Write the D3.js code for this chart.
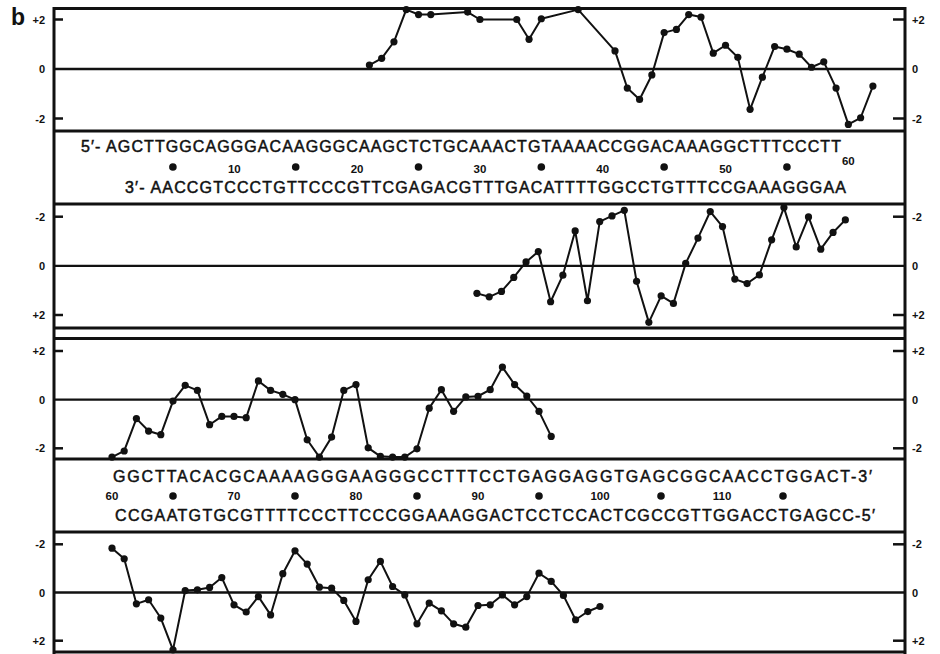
<!DOCTYPE html>
<html>
<head>
<meta charset="utf-8">
<script src="https://cdn.jsdelivr.net/npm/d3@7"></script>
<style>
  body { margin: 0; background: #fff; }
  svg { display: block; }
  text { font-family: "Liberation Sans", Arial, Helvetica, sans-serif; fill: #111; }
</style>
</head>
<body>
<div id="chart"></div>
<script>
// DNA sequence shown in the two boxes
const seqTopA = "5\u2032- AGCTTGGCAGGGACAAGGGCAAGCTCTGCAAACTGTAAAACCGGACAAAGGCTTTCCCTT";
const seqBotA = "3\u2032- AACCGTCCCTGTTCCCGTTCGAGACGTTTGACATTTTGGCCTGTTTCCGAAAGGGAA";
const seqTopB = "GGCTTACACGCAAAAGGGAAGGGCCTTTCCTGAGGAGGTGAGCGGCAACCTGGACT-3\u2032";
const seqBotB = "CCGAATGTGCGTTTTCCCTTCCCGGAAAGGACTCCTCCACTCGCCGTTGGACCTGAGCC-5\u2032";

// numbering under the sequences
const numsA = [10, 20, 30, 40, 50, 60];
const dotsA = [5, 15, 25, 35, 45, 55];
const numsB = [60, 70, 80, 90, 100, 110];
const dotsB = [65, 75, 85, 95, 105, 115];

// y tick values
const yTicks = [-2, 0, 2];

// panel 1 : upper strand, first half (there are gaps in the profile)
const pos1 = [21, 22, 23, 24, 25, 26, 29, 30, 33, 34, 35, 38,
  41, 42, 43, 44, 45, 46, 47, 48, 49, 50, 51, 52, 53, 54, 55, 56, 57, 58, 59, 60, 61, 62];
const val1 = [0.16, 0.43, 1.1, 2.4, 2.2, 2.2, 2.3, 2.0, 2.0, 1.2, 2.03, 2.4,
  0.73, -0.77, -1.23, -0.24, 1.47, 1.6, 2.2, 2.1, 0.64, 0.96, 0.47, -1.63, -0.33, 0.91,
  0.8, 0.6, 0.07, 0.29, -0.77, -2.24, -1.97, -0.69];

// panel 2 : lower strand, first half (axis reversed)
const pos2 = d3.range(30, 61);
const val2 = [1.12, 1.26, 1.04, 0.47, -0.16, -0.58, 1.46, 0.38, -1.42, 1.42, -1.8, -2.03,
  -2.26, 0.63, 2.3, 1.22, 1.53, -0.1, -1.13, -2.21, -1.6, 0.54, 0.72, 0.37, -1.06, -2.37,
  -0.77, -1.99, -0.68, -1.36, -1.87];

// panel 3 : upper strand, second half
const pos3 = d3.range(60, 97);
const val3 = [-2.36, -2.11, -0.78, -1.29, -1.44, -0.06, 0.59, 0.38, -1.03, -0.69, -0.69,
  -0.74, 0.77, 0.38, 0.22, 0.0, -1.65, -2.36, -1.54, 0.38, 0.62, -1.98, -2.33, -2.36, -2.36,
  -2.02, -0.35, 0.41, -0.48, 0.11, 0.14, 0.41, 1.34, 0.62, 0.15, -0.48, -1.51];

// panel 4 : lower strand, second half (axis reversed)
const pos4 = d3.range(60, 101);
const val4 = [-1.84, -1.4, 0.47, 0.3, 1.06, 2.38, -0.08, -0.11, -0.21, -0.62, 0.51, 0.81,
  0.17, 0.93, -0.78, -1.73, -1.18, -0.22, -0.18, 0.33, 1.2, -0.53, -1.29, -0.25, 0.1, 1.3,
  0.44, 0.76, 1.3, 1.44, 0.54, 0.51, 0.1, 0.51, 0.17, -0.8, -0.46, 0.12, 1.13, 0.79, 0.58];

const W = 940, H = 654;
const left = 54, right = 905;

const svg = d3.select("#chart").append("svg")
  .attr("width", W).attr("height", H);

// x scales, one per half of the sequence
const xA = d3.scaleLinear().domain([0, 62]).range([111.5, 872.9]);
const xB = d3.scaleLinear().domain([60, 100]).range([112, 600]);

// the four profile panels
const panels = [
  { pos: pos1, val: val1, x: xA, shift: 0,  y: d3.scaleLinear().domain([-2, 2]).range([118.5, 19.5]) },
  { pos: pos2, val: val2, x: xA, shift: -3, y: d3.scaleLinear().domain([-2, 2]).range([216.7, 315]) },
  { pos: pos3, val: val3, x: xB, shift: 0,  y: d3.scaleLinear().domain([-2, 2]).range([448.3, 351]) },
  { pos: pos4, val: val4, x: xB, shift: 0,  y: d3.scaleLinear().domain([-2, 2]).range([544.3, 640.7]) }
];

const fmt = d => d > 0 ? "+" + d : d < 0 ? "-" + Math.abs(d) : "0";

panels.forEach(p => {
  const g = svg.append("g");

  // zero line
  g.append("line")
    .attr("x1", left).attr("x2", right)
    .attr("y1", p.y(0)).attr("y2", p.y(0))
    .attr("stroke", "#111").attr("stroke-width", 2.3);

  // ticks at +-2 on both sides
  g.selectAll(".tl").data([-2, 2]).join("line")
    .attr("x1", left).attr("x2", left + 9)
    .attr("y1", d => p.y(d)).attr("y2", d => p.y(d))
    .attr("stroke", "#111").attr("stroke-width", 2.5);
  g.selectAll(".tr").data([-2, 2]).join("line")
    .attr("x1", right - 12).attr("x2", right)
    .attr("y1", d => p.y(d)).attr("y2", d => p.y(d))
    .attr("stroke", "#111").attr("stroke-width", 2.5);

  // tick labels
  g.selectAll(".ll").data(yTicks).join("text")
    .attr("x", 45).attr("y", d => p.y(d) + 4)
    .attr("text-anchor", "end")
    .attr("font-size", 11).attr("font-weight", "bold")
    .text(fmt);
  g.selectAll(".rl").data(yTicks).join("text")
    .attr("x", 912).attr("y", d => p.y(d) + 4)
    .attr("font-size", 11).attr("font-weight", "bold")
    .text(fmt);

  const pts = p.pos.map((d, i) => [p.x(d) + p.shift, p.y(p.val[i])]);

  g.append("path")
    .attr("d", d3.line()(pts))
    .attr("fill", "none").attr("stroke", "#111")
    .attr("stroke-width", 2).attr("stroke-linejoin", "round");

  g.selectAll("circle").data(pts).join("circle")
    .attr("cx", d => d[0]).attr("cy", d => d[1])
    .attr("r", 3.6).attr("fill", "#111");
});

// frame: horizontal rules and the two side borders
const rules = [8.5, 131, 204, 328, 338.5, 459, 532, 652];
svg.selectAll(".rule").data(rules).join("line")
  .attr("x1", left).attr("x2", right)
  .attr("y1", d => d).attr("y2", d => d)
  .attr("stroke", "#111").attr("stroke-width", 3);
svg.selectAll(".side").data([left, right]).join("line")
  .attr("x1", d => d).attr("x2", d => d)
  .attr("y1", 7).attr("y2", H)
  .attr("stroke", "#111").attr("stroke-width", 3);

// sequence boxes
const boxes = [
  { top: seqTopA, bot: seqBotA, x: xA, nums: numsA, dots: dotsA,
    topX: 81, topLen: 760, botX: 125, botLen: 721, yTop: 152, yNum: 173, yDot: 167, yBot: 193 },
  { top: seqTopB, bot: seqBotB, x: xB, nums: numsB, dots: dotsB,
    topX: 113, topLen: 759, botX: 115, botLen: 760, yTop: 482, yNum: 500, yDot: 496, yBot: 521 }
];

boxes.forEach((b, bi) => {
  const g = svg.append("g");
  g.append("text")
    .attr("x", b.topX).attr("y", b.yTop)
    .attr("font-size", 16)
    .attr("textLength", b.topLen).attr("lengthAdjust", "spacing")
    .attr("stroke", "#111").attr("stroke-width", 0.5)
    .text(b.top);
  g.append("text")
    .attr("x", b.botX).attr("y", b.yBot)
    .attr("font-size", 16)
    .attr("textLength", b.botLen).attr("lengthAdjust", "spacing")
    .attr("stroke", "#111").attr("stroke-width", 0.5)
    .text(b.bot);
  g.selectAll(".num").data(b.nums).join("text")
    .attr("x", d => b.x(d))
    .attr("y", d => (bi === 0 && d === 60) ? b.yNum - 8 : b.yNum)
    .attr("text-anchor", "middle")
    .attr("font-size", 11.5).attr("font-weight", "bold")
    .text(d => d);
  g.selectAll("circle").data(b.dots).join("circle")
    .attr("cx", d => b.x(d)).attr("cy", b.yDot)
    .attr("r", 3.8).attr("fill", "#111");
});

// panel letter
svg.append("text")
  .attr("x", 11).attr("y", 25)
  .attr("font-size", 23).attr("font-weight", "bold")
  .text("b");
</script>
</body>
</html>
